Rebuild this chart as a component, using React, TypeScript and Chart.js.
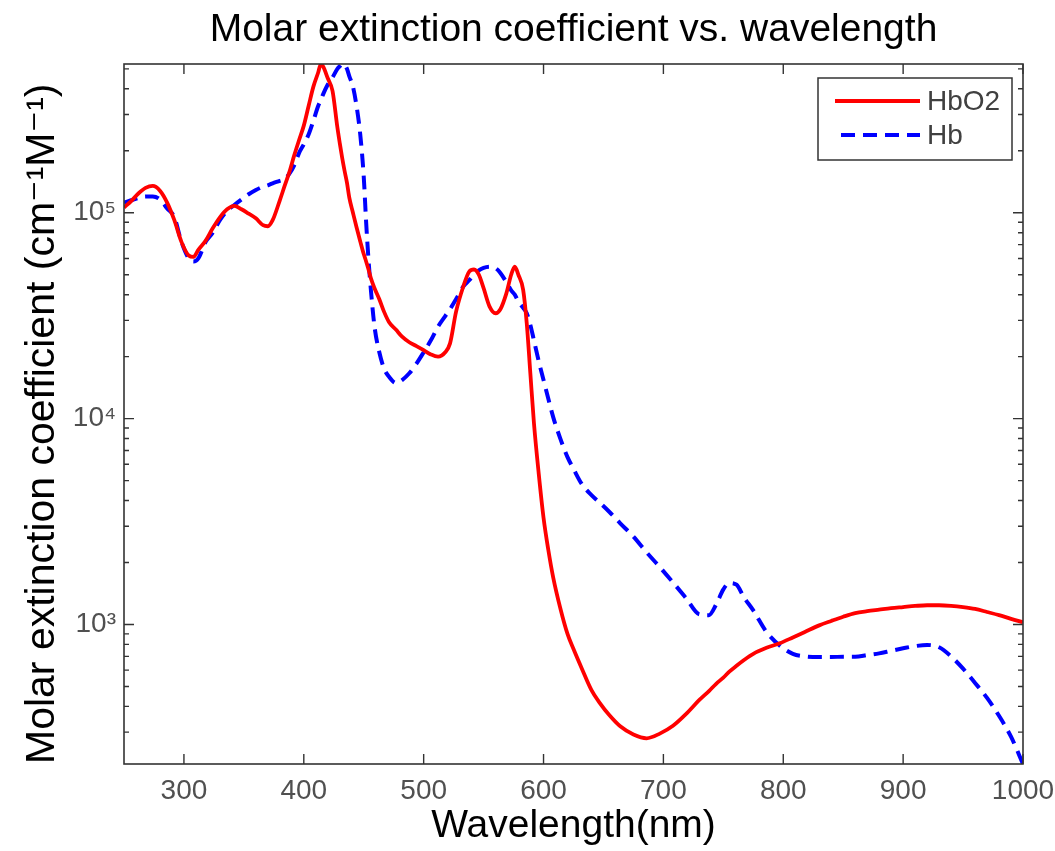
import React, { useEffect, useRef } from 'react';
import { Chart, registerables } from 'chart.js';

Chart.register(...registerables);

const TITLE = 'Molar extinction coefficient vs. wavelength';
const X_LABEL = 'Wavelength(nm)';
const Y_LABEL = 'Molar extinction coefficient (cm⁻¹M⁻¹)';
const SERIES_NAMES = ['HbO2', 'Hb'];
const X_MIN = 250;
const X_MAX = 1000;
const X_TICKS = [300, 400, 500, 600, 700, 800, 900, 1000];

const WAVELENGTHS = [
  250, 256, 262, 268, 274, 280, 286, 292, 298, 304, 308, 312, 318, 324, 330, 336, 342, 348, 354, 360,
  366, 370, 374, 380, 384, 388, 392, 396, 400, 404, 408, 412, 414, 416, 420, 424, 428, 430, 432, 434,
  436, 438, 441, 444, 447, 450, 452, 454, 456, 459, 463, 467, 471, 477, 482, 488, 494, 500, 506, 512,
  518, 522, 527, 533, 538, 542, 546, 550, 555, 560, 564, 569, 573, 576, 579, 583, 586, 589, 592, 596,
  600, 604, 608, 614, 620, 625, 632, 640, 647, 655, 664, 675, 686, 697, 708, 719, 730, 738, 744, 750,
  755, 761, 767, 775, 786, 797, 808, 818, 830, 840, 850, 860, 870, 880, 890, 900, 910, 920, 930, 940,
  950, 960, 970, 980, 990, 1000,
];

const HBO2 = [
  106000, 114000, 124000, 132000, 135000, 128000, 112000, 92000, 72000, 62000, 61000, 66000, 73000, 84000, 95000, 104000, 108000, 104000, 99000, 94000,
  87000, 86000, 92000, 115000, 135000, 158000, 190000, 225000, 265000, 330000, 410000, 480000, 524000, 515000, 450000, 390000, 260000, 218000, 185000, 160000,
  140000, 118000, 100000, 85000, 73000, 63000, 58000, 53000, 48000, 43000, 38000, 33000, 29500, 27000, 25000, 23500, 22500, 21500, 20500, 20000,
  21000, 23200, 33000, 43700, 51800, 53000, 50000, 43000, 35000, 32500, 34000, 40600, 50000, 54700, 50000, 42200, 29000, 16600, 9500, 5400,
  3300, 2300, 1700, 1200, 900, 760, 610, 480, 415, 362, 320, 292, 280, 295, 322, 368, 430, 475, 515, 552,
  590, 630, 670, 720, 770, 810, 865, 920, 990, 1040, 1090, 1135, 1160, 1180, 1200, 1215, 1230, 1240, 1240, 1232,
  1215, 1190, 1150, 1110, 1065, 1025,
];

const HB = [
  112000, 115000, 118000, 120000, 120000, 116000, 105000, 95000, 72000, 60000, 58000, 60000, 72000, 80000, 92000, 102000, 109000, 116000, 123000, 129000,
  134000, 136000, 139000, 143000, 146000, 155000, 170000, 195000, 215000, 240000, 280000, 330000, 350000, 375000, 420000, 455000, 500000, 515000, 528000, 525000,
  500000, 460000, 410000, 330000, 243000, 150000, 90000, 59000, 42000, 28000, 21000, 17500, 16000, 14900, 15400, 16600, 18500, 21000, 24000, 28000,
  31500, 34000, 38000, 43800, 47000, 50000, 52500, 54000, 54700, 53800, 51000, 46000, 42000, 40000, 37000, 34500, 32500, 28500, 24000, 19000,
  15400, 12500, 10200, 8000, 6500, 5700, 4800, 4250, 3900, 3520, 3100, 2670, 2240, 1900, 1600, 1340, 1120, 1110, 1250, 1480,
  1590, 1560, 1360, 1170, 920, 790, 720, 700, 695, 695, 697, 697, 710, 724, 745, 766, 785, 795, 775, 700,
  610, 520, 440, 360, 285, 210,
];

const FONT = '"Liberation Sans", Arial, "DejaVu Sans", sans-serif';
const SUP: Record<string, string> = { '0': '⁰', '1': '¹', '2': '²', '3': '³', '4': '⁴', '5': '⁵', '6': '⁶', '7': '⁷', '8': '⁸', '9': '⁹', '-': '⁻' };

const framePlugin = {
  id: 'frameTicks',
  afterDatasetsDraw(chart: any) {
    const { ctx, chartArea: a, scales } = chart;
    const x = scales.x;
    const y = scales.y;
    ctx.save();
    ctx.strokeStyle = '#333333';
    ctx.lineWidth = 1.6;
    ctx.strokeRect(a.left, a.top, a.right - a.left, a.bottom - a.top);
    ctx.lineWidth = 1.4;
    ctx.beginPath();
    x.ticks.forEach((t: any) => {
      const px = x.getPixelForValue(t.value);
      ctx.moveTo(px, a.bottom);
      ctx.lineTo(px, a.bottom - 10);
      ctx.moveTo(px, a.top);
      ctx.lineTo(px, a.top + 10);
    });
    const e0 = Math.floor(Math.log10(y.min));
    const e1 = Math.ceil(Math.log10(y.max));
    for (let e = e0; e <= e1; e++) {
      for (let m = 1; m <= 9; m++) {
        const v = m * Math.pow(10, e);
        if (v < y.min || v > y.max) continue;
        const py = y.getPixelForValue(v);
        const len = m === 1 ? 10 : 5;
        ctx.moveTo(a.left, py);
        ctx.lineTo(a.left + len, py);
        ctx.moveTo(a.right, py);
        ctx.lineTo(a.right - len, py);
      }
    }
    ctx.stroke();
    ctx.restore();
  },
};

const legendPlugin = {
  id: 'boxLegend',
  afterDraw(chart: any) {
    const { ctx, chartArea: a } = chart;
    const w = 194;
    const h = 82;
    const left = a.right - 11 - w;
    const top = a.top + 14;
    ctx.save();
    ctx.fillStyle = '#ffffff';
    ctx.fillRect(left, top, w, h);
    ctx.strokeStyle = '#333333';
    ctx.lineWidth = 1.5;
    ctx.strokeRect(left, top, w, h);
    chart.data.datasets.forEach((ds: any, i: number) => {
      const yy = top + 23 + i * 34;
      ctx.strokeStyle = ds.borderColor;
      ctx.lineWidth = ds.borderWidth;
      ctx.setLineDash(ds.borderDash || []);
      ctx.beginPath();
      ctx.moveTo(left + 17 + (ds.borderDash ? 6 : 0), yy);
      ctx.lineTo(left + 102, yy);
      ctx.stroke();
      ctx.setLineDash([]);
      ctx.fillStyle = '#404040';
      ctx.font = `28px ${FONT}`;
      ctx.textBaseline = 'middle';
      ctx.textAlign = 'left';
      ctx.fillText(ds.label, left + 109, yy + 1);
    });
    ctx.restore();
  },
};

export default function App() {
  const canvasRef = useRef<HTMLCanvasElement | null>(null);

  useEffect(() => {
    if (!canvasRef.current) return;
    const yMin = Math.min(...HBO2, ...HB);
    const yMax = Math.max(...HBO2, ...HB);
    const chart = new Chart(canvasRef.current, {
      type: 'line',
      data: {
        datasets: [
          {
            label: SERIES_NAMES[0],
            data: WAVELENGTHS.map((w, i) => ({ x: w, y: HBO2[i] })),
            borderColor: '#ff0000',
            backgroundColor: '#ff0000',
            borderWidth: 3.8,
            pointRadius: 0,
            cubicInterpolationMode: 'monotone',
            fill: false,
          },
          {
            label: SERIES_NAMES[1],
            data: WAVELENGTHS.map((w, i) => ({ x: w, y: HB[i] })),
            borderColor: '#0000ff',
            backgroundColor: '#0000ff',
            borderWidth: 4,
            borderDash: [14, 8],
            pointRadius: 0,
            cubicInterpolationMode: 'monotone',
            fill: false,
          },
        ],
      },
      options: {
        animation: false,
        responsive: true,
        maintainAspectRatio: false,
        layout: { padding: { right: 32, left: 0, top: 0, bottom: 0 } },
        plugins: {
          legend: { display: false },
          tooltip: { enabled: false },
          title: {
            display: true,
            fullSize: false,
            text: TITLE,
            color: '#000000',
            font: { family: FONT, size: 39, weight: 'normal' },
            padding: { top: 7, bottom: 10.2 },
          },
        },
        scales: {
          x: {
            type: 'linear',
            min: X_MIN,
            max: X_MAX,
            grid: { display: false, drawTicks: false },
            border: { display: false },
            afterBuildTicks: (s: any) => {
              s.ticks = X_TICKS.map((v) => ({ value: v }));
            },
            ticks: {
              autoSkip: false,
              maxRotation: 0,
              padding: 10,
              color: '#505050',
              font: { family: FONT, size: 28 },
              callback: (v: any) => String(v),
            },
            title: {
              display: true,
              text: X_LABEL,
              color: '#000000',
              font: { family: FONT, size: 39 },
              padding: { top: 0, bottom: 1.5 },
            },
            afterFit: (s: any) => {
              s.height = 87;
              s.paddingLeft = 0;
              s.paddingRight = 0;
            },
          },
          y: {
            type: 'logarithmic',
            min: yMin,
            max: yMax,
            grid: { display: false, drawTicks: false },
            border: { display: false },
            ticks: {
              autoSkip: false,
              padding: 8,
              color: '#505050',
              font: { family: FONT, size: 28 },
              callback: (v: any) => {
                const lg = Math.log10(Number(v));
                if (Math.abs(lg - Math.round(lg)) > 1e-9) return '';
                return '10' + String(Math.round(lg)).split('').map((c) => SUP[c]).join('');
              },
            },
            title: {
              display: true,
              text: Y_LABEL,
              align: 'start',
              color: '#000000',
              font: { family: FONT, size: 41 },
              padding: { top: 18, bottom: 0 },
            },
            afterFit: (s: any) => {
              s.width = 124;
              s.paddingTop = 0;
              s.paddingBottom = 0;
            },
          },
        },
      },
      plugins: [framePlugin, legendPlugin],
    } as any);
    return () => chart.destroy();
  }, []);

  return (
    <div style={{ position: 'absolute', left: 0, top: 0, width: 1055, height: 851, background: '#ffffff' }}>
      <canvas ref={canvasRef} />
    </div>
  );
}
